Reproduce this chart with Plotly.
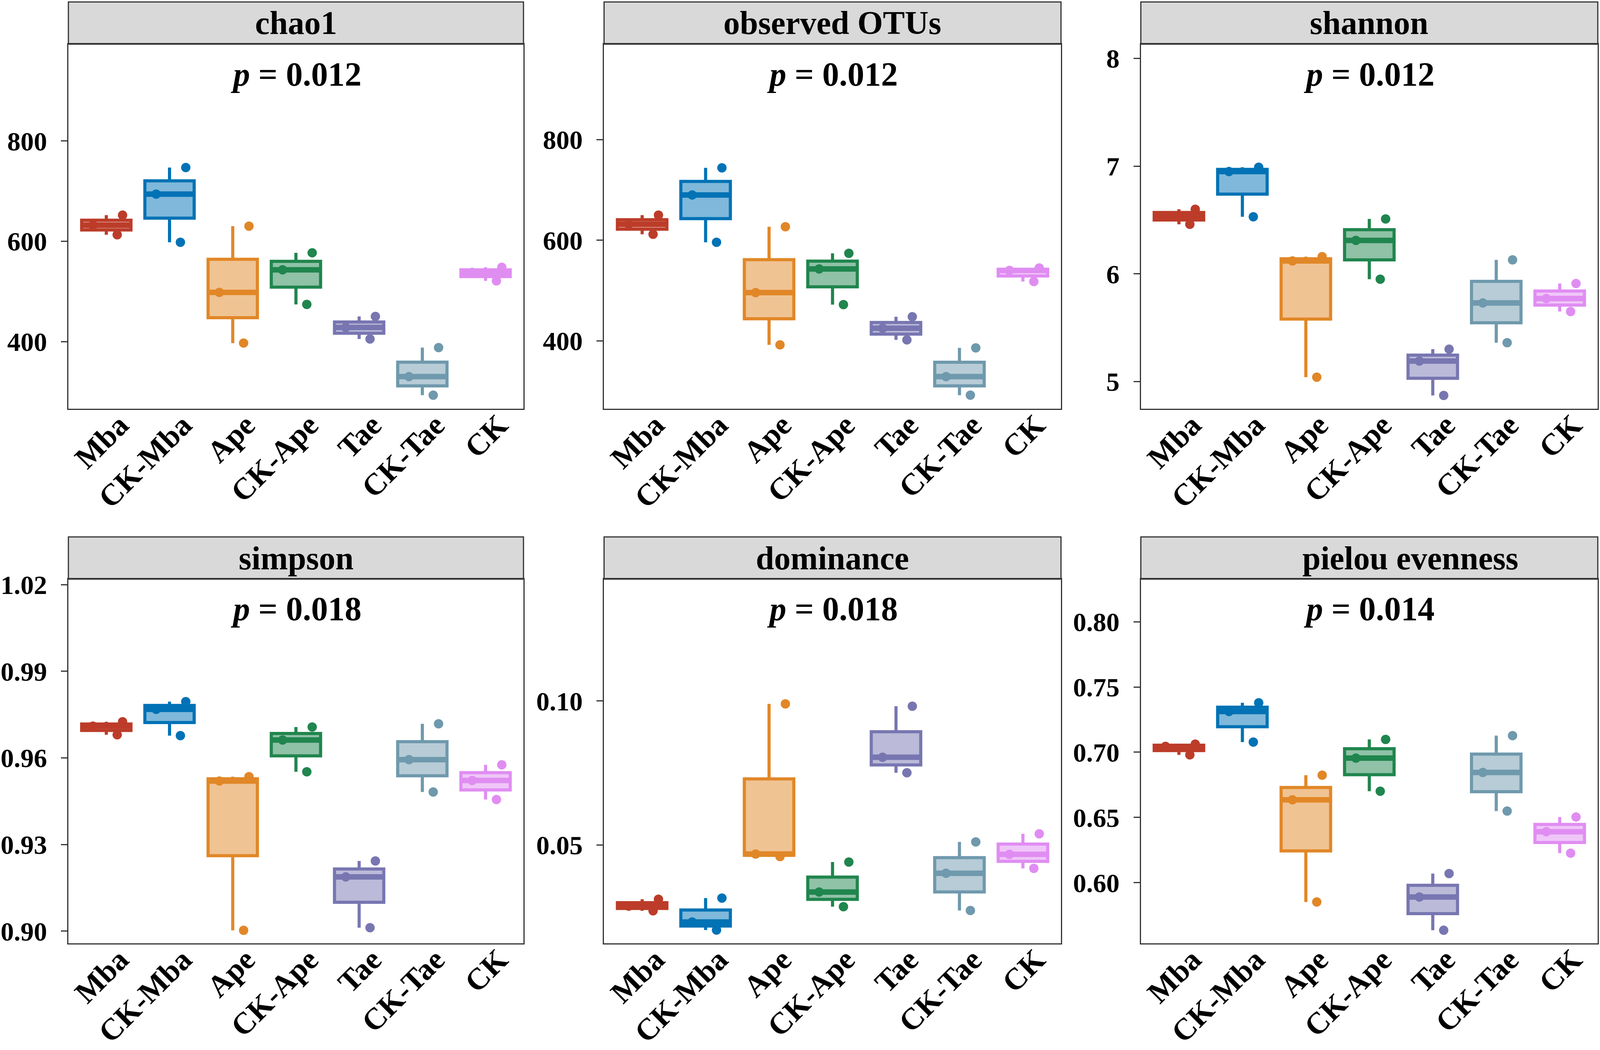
import numpy as np
import plotly.graph_objects as go
from plotly.subplots import make_subplots

# groups in plotting order and their colours
groups = ["Mba", "CK-Mba", "Ape", "CK-Ape", "Tae", "CK-Tae", "CK"]
colors = ["#BC3C29", "#0072B5", "#E18727", "#20854E", "#7876B1", "#6F99AD", "#E08DF2"]

# three replicates per group
chao1 = [[613, 632, 652], [598, 694, 747], [397, 498, 630], [474, 543, 577],
         [405, 428, 450], [293, 330, 388], [521, 538, 548]]
observed_otus = [[612, 632, 650], [596, 690, 744], [392, 496, 627], [472, 543, 574],
                 [402, 425, 448], [292, 329, 386], [518, 540, 545]]
shannon = [[6.46, 6.54, 6.60], [6.53, 6.95, 6.99], [5.04, 6.12, 6.16], [5.95, 6.31, 6.51],
           [4.87, 5.19, 5.30], [5.36, 5.73, 6.13], [5.65, 5.77, 5.91]]
simpson = [[0.9680, 0.9710, 0.9725], [0.9677, 0.9768, 0.9795], [0.9003, 0.9520, 0.9535],
           [0.9552, 0.9662, 0.9707], [0.9012, 0.9188, 0.9243], [0.9482, 0.9594, 0.9718],
           [0.9456, 0.9522, 0.9576]]
dominance = [[0.0272, 0.0288, 0.0312], [0.0205, 0.0233, 0.0316], [0.0460, 0.0469, 0.0990],
             [0.0286, 0.0337, 0.0441], [0.0751, 0.0805, 0.0982], [0.0273, 0.0402, 0.0511],
             [0.0419, 0.0468, 0.0539]]
pielou = [[0.6980, 0.7045, 0.7062], [0.7078, 0.7312, 0.7379], [0.5852, 0.6635, 0.6824],
          [0.6701, 0.6955, 0.7098], [0.5635, 0.5890, 0.6070], [0.6549, 0.6845, 0.7127],
          [0.6226, 0.6390, 0.6503]]

titles = ["chao1", "observed OTUs", "shannon", "simpson", "dominance", "pielou evenness"]
p_values = ["0.012", "0.012", "0.012", "0.018", "0.018", "0.014"]
panels = [chao1, observed_otus, shannon, simpson, dominance, pielou]

y_ranges = [[266, 993], [265, 990], [4.747, 8.133],
            [0.8958, 1.0219], [0.0159, 0.1423], [0.5535, 0.8327]]
y_ticks = [[400, 600, 800], [400, 600, 800], [5, 6, 7, 8],
           [0.90, 0.93, 0.96, 0.99, 1.02], [0.05, 0.10], [0.60, 0.65, 0.70, 0.75, 0.80]]
y_fmt = [None, None, None, ".2f", ".2f", ".2f"]

FONT = "Liberation Serif"
# panel positions measured on the 4328x2687 original, used as fractions
W, H = 4328, 2687
x_domains = [[185 / W, 1416 / W], [1634 / W, 2870 / W], [3086 / W, 4322 / W]]
y_domains = [[1 - 1046 / H, 1 - 113 / H], [1 - 2414 / H, 1 - 1482 / H]]
strip_h = 108 / 933
BOX_W = 0.78
# the last strip title sits a little right of centre in the original
title_shift = [0, 0, 0, 0, 0, 105]


def rgba(hex_color, a):
    h = hex_color.lstrip("#")
    r, g, b = int(h[0:2], 16), int(h[2:4], 16), int(h[4:6], 16)
    return f"rgba({r},{g},{b},{a})"


fig = make_subplots(rows=2, cols=3)

for k, data in enumerate(panels):
    row, col = k // 3 + 1, k % 3 + 1
    axn = "" if k == 0 else str(k + 1)
    for i, (g, vals, c) in enumerate(zip(groups, data, colors)):
        fig.add_trace(
            go.Box(
                x=[g] * len(vals), y=vals, name=g,
                line=dict(color=c, width=8), fillcolor=rgba(c, 0.5),
                marker=dict(color=c, size=24, opacity=1),
                boxpoints="all", jitter=0.85, pointpos=0,
                whiskerwidth=0, width=BOX_W, quartilemethod="inclusive",
                showlegend=False, hoverinfo="y",
            ),
            row=row, col=col,
        )
        # ggplot draws the median thicker than the box outline
        med = float(np.median(vals))
        fig.add_shape(type="line", xref=f"x{axn}", yref=f"y{axn}",
                      x0=i - BOX_W / 2 + 0.02, x1=i + BOX_W / 2 - 0.02, y0=med, y1=med,
                      line=dict(color=c, width=14), layer="above")
    xd = f"x{axn} domain"
    yd = f"y{axn} domain"
    # strip header
    fig.add_shape(type="rect", xref=xd, yref=yd, x0=0, x1=1, y0=1, y1=1 + strip_h,
                  fillcolor="#D9D9D9", line=dict(color="#333333", width=3), layer="below")
    fig.add_annotation(xref=xd, yref=yd, x=0.5, y=1 + strip_h / 2, text=f"<b>{titles[k]}</b>",
                       showarrow=False, font=dict(family=FONT, size=84, color="black"),
                       yanchor="middle", xshift=title_shift[k])
    fig.add_annotation(xref=xd, yref=yd, x=0.5, y=0.918,
                       text=f"<b><i>p</i> = {p_values[k]}</b>",
                       showarrow=False, font=dict(family=FONT, size=86, color="black"),
                       yanchor="middle")
    fig.update_xaxes(
        domain=x_domains[col - 1], categoryorder="array", categoryarray=groups,
        range=[-0.6, 6.6], tickangle=-45, ticks="", showline=True, mirror=True,
        linecolor="#333333", linewidth=3, showgrid=False, zeroline=False,
        ticklabelstandoff=-38, ticklabelshift=34, automargin=False,
        tickfont=dict(family=FONT, size=78, color="black", weight="bold"),
        row=row, col=col,
    )
    fig.update_yaxes(
        domain=y_domains[row - 1], range=y_ranges[k], tickvals=y_ticks[k],
        tickformat=y_fmt[k], ticks="outside", ticklen=16, tickwidth=3, tickcolor="#333333",
        showline=True, mirror=True, linecolor="#333333", linewidth=3,
        showgrid=False, zeroline=False, ticklabelstandoff=22, automargin=False,
        tickfont=dict(family=FONT, size=68, color="black", weight="bold"),
        row=row, col=col,
    )

fig.update_layout(
    autosize=True, margin=dict(l=0, r=0, t=0, b=0),
    paper_bgcolor="white", plot_bgcolor="white", boxmode="overlay",
    font=dict(family=FONT, color="black"),
)

# fill the browser window exactly
fig.write_html("out.html", default_width="100vw", default_height="100vh",
               config={"displayModeBar": False},
               post_script="document.body.style.margin='0';document.body.style.overflow='hidden';")
